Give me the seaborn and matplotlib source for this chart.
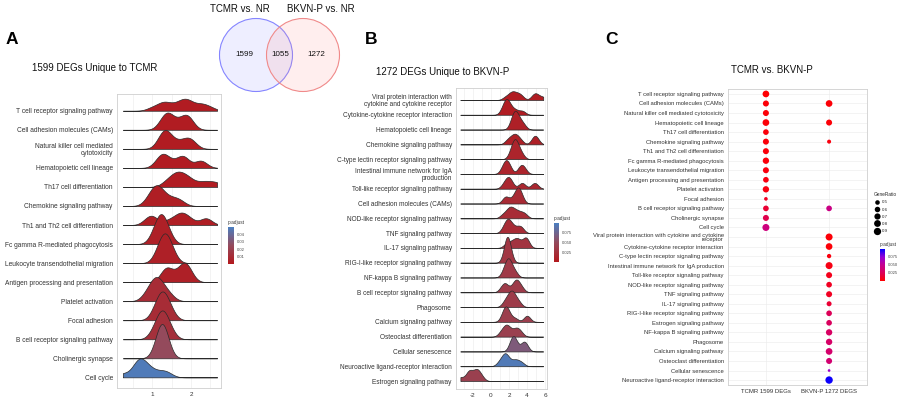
import numpy as np
import pandas as pd
import matplotlib
matplotlib.use("Agg")
import matplotlib.pyplot as plt
import matplotlib.transforms as mtransforms
from matplotlib.colors import LinearSegmentedColormap, Normalize
from matplotlib.patches import Circle
from matplotlib.lines import Line2D
from matplotlib.cm import ScalarMappable
import seaborn as sns

# ---------------- data ----------------
venn_names = ["TCMR vs. NR", "BKVN-P vs. NR"]
venn_counts = [1599, 1055, 1272]   # TCMR only, shared, BKVN-P only

a_pathways = [
    "T cell receptor signaling pathway", "Cell adhesion molecules (CAMs)",
    "Natural killer cell mediated\ncytotoxicity", "Hematopoietic cell lineage",
    "Th17 cell differentiation", "Chemokine signaling pathway",
    "Th1 and Th2 cell differentiation", "Fc gamma R-mediated phagocytosis",
    "Leukocyte transendothelial migration", "Antigen processing and presentation",
    "Platelet activation", "Focal adhesion", "B cell receptor signaling pathway",
    "Cholinergic synapse", "Cell cycle",
]
a_padj = [0.002, 0.002, 0.002, 0.002, 0.002, 0.003, 0.003, 0.004, 0.004, 0.004,
          0.010, 0.010, 0.012, 0.025, 0.048]
a_logfc = [
    [1.0, 1.2, 1.3, 1.35, 1.5, 1.65, 1.75, 1.82, 1.88, 1.95, 2.05, 2.25, 2.3, 2.5],
    [1.25, 1.34, 1.38, 1.42, 1.5, 1.65, 1.8, 1.87, 1.92, 1.98],
    [1.2, 1.28, 1.31, 1.34, 1.38, 1.45, 1.6, 1.75, 1.9, 1.95, 2.05],
    [1.15, 1.25, 1.3, 1.35, 1.55, 1.75, 1.8, 1.85, 2.2, 2.3],
    [1.35, 1.5, 1.58, 1.65, 1.72, 1.8, 1.9, 2.0, 2.25, 2.45, 2.67],
    [0.9, 1.02, 1.08, 1.12, 1.17, 1.25, 1.38, 1.55, 1.72],
    [0.88, 0.98, 1.05, 1.4, 1.6, 1.7, 1.78, 1.85, 2.0, 2.35, 2.42],
    [1.05, 1.15, 1.2, 1.23, 1.27, 1.32, 1.42],
    [1.15, 1.24, 1.29, 1.33, 1.37, 1.42, 1.52],
    [1.32, 1.37, 1.42, 1.65, 1.78, 1.84, 1.88, 1.95],
    [0.85, 0.98, 1.05, 1.1, 1.15, 1.2, 1.3, 1.45],
    [1.08, 1.17, 1.23, 1.27, 1.31, 1.37, 1.48],
    [1.05, 1.17, 1.23, 1.26, 1.3, 1.35, 1.47],
    [1.15, 1.21, 1.25, 1.27, 1.3, 1.36],
    [0.25, 0.55, 0.62, 0.66, 0.7, 0.75, 0.82, 0.92, 1.05, 1.25, 1.4],
]

b_pathways = [
    "Viral protein interaction with\ncytokine and cytokine receptor",
    "Cytokine-cytokine receptor interaction", "Hematopoietic cell lineage",
    "Chemokine signaling pathway", "C-type lectin receptor signaling pathway",
    "Intestinal immune network for IgA\nproduction", "Toll-like receptor signaling pathway",
    "Cell adhesion molecules (CAMs)", "NOD-like receptor signaling pathway",
    "TNF signaling pathway", "IL-17 signaling pathway",
    "RIG-I-like receptor signaling pathway", "NF-kappa B signaling pathway",
    "B cell receptor signaling pathway", "Phagosome", "Calcium signaling pathway",
    "Osteoclast differentiation", "Cellular senescence",
    "Neuroactive ligand-receptor interaction", "Estrogen signaling pathway",
]
b_padj = [0.004, 0.004, 0.008, 0.008, 0.012, 0.012, 0.015, 0.018, 0.02, 0.02,
          0.028, 0.03, 0.033, 0.035, 0.035, 0.038, 0.04, 0.065, 0.095, 0.04]
b_logfc = [
    [1.6, 2.1, 2.3, 2.5, 2.8, 3.1, 3.4, 4.7, 4.9, 5.2, 5.8],
    [1.3, 1.55, 1.7, 1.8, 1.95, 2.3, 2.8, 3.5],
    [2.3, 2.5, 2.65, 2.75, 2.9, 3.2, 3.6],
    [1.8, 2.2, 2.5, 2.7, 2.9, 3.3, 4.7, 4.9, 5.1],
    [2.2, 2.45, 2.6, 2.7, 2.8, 3.0, 3.4],
    [1.3, 1.55, 1.7, 1.85, 2.1, 3.2, 3.4, 3.7],
    [1.4, 1.75, 1.9, 2.05, 2.3, 3.3, 3.6, 4.7, 5.0],
    [1.5, 1.75, 2.4, 2.8, 2.95, 3.05, 3.15, 3.4],
    [1.3, 1.8, 2.0, 2.2, 2.4, 2.7, 3.0, 3.4, 3.8],
    [1.4, 1.7, 1.85, 2.0, 2.2, 2.6, 3.1, 3.4],
    [1.7, 2.2, 2.6, 2.9, 3.1, 3.7, 3.9, 4.0],
    [1.55, 1.7, 1.78, 1.82, 1.88, 1.95, 2.1],
    [1.4, 1.7, 1.85, 1.95, 2.05, 2.3, 2.7],
    [1.2, 1.55, 1.7, 2.4, 2.7, 2.85, 3.0, 3.4],
    [1.5, 1.9, 2.1, 2.3, 2.45, 2.65, 3.1],
    [1.3, 1.5, 1.62, 1.7, 1.8, 2.1, 2.7, 3.9, 4.1],
    [1.1, 1.5, 1.7, 1.85, 2.2, 2.7, 2.9, 3.3],
    [2.2, 2.35, 2.5, 2.6, 2.8, 3.5, 3.7, 3.9],
    [0.9, 1.3, 1.5, 1.6, 1.75, 2.1, 2.6, 2.9, 3.4],
    [-3.4, -2.6, -2.4, -2.25, -1.75, -1.6, -1.45, -1.05],
]

c_pathways = a_pathways[:15] + [
    "Viral protein interaction with cytokine and cytokine\nreceptor",
    "Cytokine-cytokine receptor interaction", "C-type lectin receptor signaling pathway",
    "Intestinal immune network for IgA production", "Toll-like receptor signaling pathway",
    "NOD-like receptor signaling pathway", "TNF signaling pathway", "IL-17 signaling pathway",
    "RIG-I-like receptor signaling pathway", "Estrogen signaling pathway",
    "NF-kappa B signaling pathway", "Phagosome", "Calcium signaling pathway",
    "Osteoclast differentiation", "Cellular senescence",
    "Neuroactive ligand-receptor interaction",
]
c_pathways[2] = "Natural killer cell mediated cytotoxicity"
c_groups = ["TCMR 1599 DEGs", "BKVN-P 1272 DEGS"]
nan = np.nan
c_tcmr_ratio = [0.78, 0.67, 0.67, 0.78, 0.62, 0.67, 0.67, 0.72, 0.67, 0.62, 0.72, 0.44,
                0.62, 0.67, 0.84] + [nan] * 16
c_tcmr_padj = [0.001, 0.002, 0.002, 0.002, 0.003, 0.003, 0.003, 0.003, 0.004, 0.005,
               0.005, 0.01, 0.015, 0.022, 0.042] + [nan] * 16
c_bkvn_ratio = [nan, 0.78, nan, 0.67, nan, 0.46, nan, nan, nan, nan, nan, nan, 0.62, nan, nan,
                0.84, 0.78, 0.48, 0.84, 0.67, 0.62, 0.67, 0.54, 0.62, 0.62, 0.72, 0.72,
                0.78, 0.67, 0.42, 0.92]
c_bkvn_padj = [nan, 0.002, nan, 0.002, nan, 0.004, nan, nan, nan, nan, nan, nan, 0.045, nan, nan,
               0.002, 0.002, 0.004, 0.006, 0.008, 0.01, 0.01, 0.015, 0.025, 0.028, 0.03,
               0.032, 0.034, 0.036, 0.07, 0.098]
size_breaks = [0.5, 0.6, 0.7, 0.8, 0.9]

# ---------------- style ----------------
sns.set_theme(style="white")
plt.rcParams["font.family"] = ["Liberation Sans", "DejaVu Sans"]
W, H = 900, 401
TXT = "#333333"

ridge_cmap = LinearSegmentedColormap.from_list("ridge", ["#b3181d", "#944a5c", "#4a7fc1"])
dot_cmap = LinearSegmentedColormap.from_list(
    "dot", ["#ff0000", "#dc0057", "#c6008f", "#9400d6", "#0000ff"])


def rect(x0, y0, x1, y1):
    return [x0 / W, 1 - y1 / H, (x1 - x0) / W, (y1 - y0) / H]


def style_frame(ax):
    for s in ax.spines.values():
        s.set_color("#cfcfcf")
        s.set_linewidth(0.6)
    ax.tick_params(length=2, width=0.4, color=TXT, pad=1, labelcolor=TXT)


def draw_ridges(ax, names, samples, padj, bw, norm, peak_rows, fs):
    n = len(names)
    allv = np.concatenate([np.asarray(s, float) for s in samples])
    lo, hi = allv.min(), allv.max()
    fills = []
    for i, vals in enumerate(samples):
        vals = np.asarray(vals, float)
        k0 = len(ax.collections)
        sns.kdeplot(x=vals, ax=ax, fill=True, bw_method=bw / vals.std(ddof=1), cut=60,
                    clip=(lo, hi), gridsize=500, color=ridge_cmap(norm(padj[i])), alpha=1,
                    edgecolor="#2a2a2a", linewidth=0.5)
        fills.append(ax.collections[k0])
    dmax = max(c.get_paths()[0].vertices[:, 1].max() for c in fills)
    sc = peak_rows / dmax
    for i, c in enumerate(fills):
        c.set_transform(mtransforms.Affine2D().scale(1, sc).translate(0, n - 1 - i) + ax.transData)
        c.set_zorder(3 + i)
    ax.set_yticks([n - 1 - i for i in range(n)])
    ax.set_yticklabels(names, fontsize=fs, linespacing=0.95)
    ax.set_xlabel("")
    ax.set_ylabel("")
    ax.grid(which="both", axis="x", color="#ebebeb", linewidth=0.4)
    ax.grid(False, axis="y")
    ax.set_axisbelow(True)
    style_frame(ax)


def add_cbar(cax, norm, cmap, ticks, fmt):
    cb = fig.colorbar(ScalarMappable(norm=norm, cmap=cmap), cax=cax)
    cb.outline.set_visible(False)
    cb.set_ticks(ticks)
    cb.set_ticklabels([fmt % t for t in ticks])
    cax.tick_params(labelsize=3, length=1.2, width=0.3, direction="in", color="white",
                    labelcolor="#444444", pad=2)
    cax.set_title("p.adjust", fontsize=3.4, loc="left", pad=2, color="#333333")


fig = plt.figure(figsize=(9, 4.01), dpi=100)

# annotation layer (letters, titles, venn)
ann = fig.add_axes([0, 0, 1, 1])
ann.set_xlim(0, W)
ann.set_ylim(H, 0)
ann.axis("off")
ann.add_patch(Circle((256, 55), 36.5, facecolor=(0.55, 0.55, 1.0, 0.14),
                     edgecolor="#8585ff", linewidth=0.8))
ann.add_patch(Circle((303, 55), 36.5, facecolor=(1.0, 0.55, 0.55, 0.14),
                     edgecolor="#f08a8a", linewidth=0.8))
ann.text(240, 9, venn_names[0], ha="center", va="center", fontsize=7, color="#111111")
ann.text(321, 9, venn_names[1], ha="center", va="center", fontsize=7, color="#111111")
for xx, cnt in zip([244, 280, 316], venn_counts):
    ann.text(xx, 54, str(cnt), ha="center", va="center", fontsize=5.8, color="#111111")
for xx, letter in zip([12, 371, 612], ["A", "B", "C"]):
    ann.text(xx, 40, letter, ha="center", va="center", fontsize=12.5, fontweight="bold",
             color="black")
ann.text(95, 68, "1599 DEGs Unique to TCMR", ha="center", va="center", fontsize=7, color="#111111")
ann.text(443, 72, "1272 DEGs Unique to BKVN-P", ha="center", va="center", fontsize=7,
         color="#111111")
ann.text(772, 70, "TCMR vs. BKVN-P", ha="center", va="center", fontsize=7, color="#111111")

# ---------------- panel A ----------------
norm_a = Normalize(0, 0.05)
axa = fig.add_axes(rect(117, 94, 221, 388))
draw_ridges(axa, a_pathways, a_logfc, a_padj, 0.15, norm_a, 1.8, 4.8)
axa.set_xlim(0.10, 2.77)
axa.set_ylim(-0.56, 14.88)
axa.set_xticks([1, 2])
axa.set_xticklabels(["1", "2"], fontsize=4.6)
axa.set_xticks([0.5, 1.5, 2.5], minor=True)
axa.tick_params(axis="x", which="minor", length=0)
add_cbar(fig.add_axes(rect(228, 227, 234, 264)), norm_a, ridge_cmap,
         [0.01, 0.02, 0.03, 0.04], "%.2f")

# ---------------- panel B ----------------
norm_b = Normalize(0, 0.1)
axb = fig.add_axes(rect(456, 88, 547, 389))
draw_ridges(axb, b_pathways, b_logfc, b_padj, 0.35, norm_b, 1.75, 4.7)
axb.set_xlim(-3.89, 6.22)
axb.set_ylim(-0.54, 19.81)
axb.set_xticks([-2, 0, 2, 4, 6])
axb.set_xticklabels(["-2", "0", "2", "4", "6"], fontsize=4.6)
axb.set_xticks([-3, -1, 1, 3, 5], minor=True)
axb.tick_params(axis="x", which="minor", length=0)
add_cbar(fig.add_axes(rect(554, 223, 559, 262)), norm_b, ridge_cmap,
         [0.025, 0.05, 0.075], "%.3f")

# ---------------- panel C ----------------
n_c = len(c_pathways)
dfc = pd.DataFrame({
    "pathway": c_pathways * 2,
    "row": [n_c - 1 - i for i in range(n_c)] * 2,
    "group": [0] * n_c + [1] * n_c,
    "ratio": c_tcmr_ratio + c_bkvn_ratio,
    "padj": c_tcmr_padj + c_bkvn_padj,
}).dropna()

r_min, r_max = 0.42, 0.92


def dot_diam_px(r):
    return 2.7 + 4.7 * np.sqrt(max(r - r_min, 0) / (r_max - r_min))


size_map = {r: (dot_diam_px(r) * 0.72) ** 2 for r in dfc["ratio"].unique()}
norm_c = Normalize(0, 0.1)
axc = fig.add_axes(rect(728, 89, 867, 385))
sns.scatterplot(data=dfc, x="group", y="row", hue="padj", palette=dot_cmap, hue_norm=norm_c,
                size="ratio", sizes=size_map, linewidth=0, legend=False, ax=axc, zorder=3)
axc.set_xlim(-0.6, 1.6)
axc.set_ylim(-0.52, n_c - 1 + 0.52)
axc.set_xticks([0, 1])
axc.set_xticklabels(c_groups, fontsize=4.3)
axc.set_yticks([n_c - 1 - i for i in range(n_c)])
axc.set_yticklabels(c_pathways, fontsize=4.2, linespacing=0.9)
axc.set_xlabel("")
axc.set_ylabel("")
axc.grid(True, color="#ebebeb", linewidth=0.4)
axc.set_axisbelow(True)
style_frame(axc)

handles = [Line2D([], [], ls="", marker="o", color="black", markeredgewidth=0,
                  markersize=dot_diam_px(b) * 0.72) for b in size_breaks]
fig.legend(handles, [f"{b:.1f}" for b in size_breaks], title="GeneRatio", loc="upper left",
           bbox_to_anchor=(871 / W, 1 - 189 / H), frameon=False, fontsize=3.2,
           title_fontsize=3.4, labelspacing=0.7, handletextpad=0.3, handlelength=1.4,
           borderpad=0.2, alignment="left")
add_cbar(fig.add_axes(rect(880, 249, 885, 281)), norm_c, dot_cmap,
         [0.025, 0.05, 0.075], "%.3f")

fig.savefig("out.png", dpi=100)
